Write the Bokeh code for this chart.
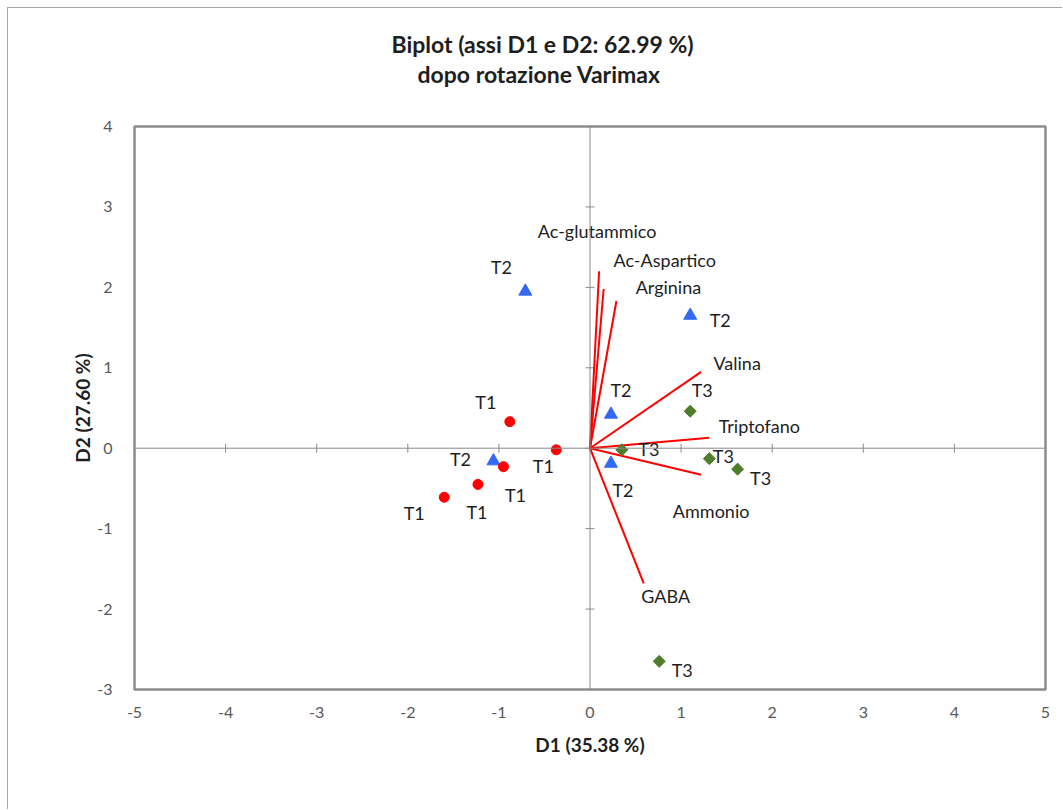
import math

from bokeh.plotting import figure
from bokeh.models import Range1d, FixedTicker, Span, Title, CustomJSTickFormatter
from bokeh.core.properties import value
from bokeh.embed import file_html
from bokeh.resources import INLINE

FONT = "Lato"

# Observation scores on D1 / D2 (after Varimax rotation)
t1_d1 = [-0.88, -0.37, -0.95, -1.23, -1.60]
t1_d2 = [0.33, -0.02, -0.23, -0.45, -0.61]
t2_d1 = [-0.71, 1.10, 0.23, 0.23, -1.06]
t2_d2 = [1.95, 1.65, 0.42, -0.19, -0.16]
t3_d1 = [1.10, 0.35, 1.31, 1.62, 0.76]
t3_d2 = [0.46, -0.02, -0.13, -0.26, -2.65]

# Variable loadings (vectors from the origin)
variables = ["Ac-glutammico", "Ac-Aspartico", "Arginina", "Valina",
             "Triptofano", "Ammonio", "GABA"]
var_d1 = [0.10, 0.15, 0.29, 1.22, 1.31, 1.22, 0.59]
var_d2 = [2.20, 1.98, 1.83, 0.95, 0.13, -0.33, -1.68]

x_ticks = [-5, -4, -3, -2, -1, 0, 1, 2, 3, 4, 5]
y_ticks = [-3, -2, -1, 0, 1, 2, 3, 4]

# label placement (pixel offsets, screen space)
t1_dx = [-24, -13, 12, -1, -30]
t1_dy = [-20, 16, 28, 28, 16]
t2_dx = [-24, 30, 10, 12, -33]
t2_dy = [-24, 4, -24, 27, -2]
t3_dx = [12, 27, 14, 23, 23]
t3_dy = [-21, -1, -3, 9, 9]
var_dx = [-2, 61, 52, 36, 50, 10, 22]
var_dy = [-40, -29, -14, -9, -12, 36, 13]

GRID = "#8a8a8a"
TXT = "#1e1e1e"

p = figure(
    width=1055, height=802,
    x_range=Range1d(-5, 5), y_range=Range1d(-3, 4),
    output_backend="svg", toolbar_location=None,
    min_border_left=126, min_border_right=18,
    min_border_top=118, min_border_bottom=121,
    background_fill_color="white", border_fill_color="white",
)
p.styles = {
    "margin-left": "7px", "margin-top": "7px",
    "border-left": "1px solid #a6a6a6", "border-top": "1px solid #a6a6a6",
}

p.grid.visible = False
p.outline_line_color = "#8c8c8c"
p.outline_line_width = 2.5

for ax, ticks in ((p.xaxis[0], x_ticks), (p.yaxis[0], y_ticks)):
    ax.ticker = FixedTicker(ticks=ticks)
    ax.formatter = CustomJSTickFormatter(code="return tick.toString();")
    ax.axis_line_color = None
    ax.major_tick_line_color = None
    ax.minor_tick_line_color = None
    ax.major_label_text_font = FONT
    ax.major_label_text_font_size = "16px"
    ax.major_label_text_color = "#595959"
    ax.axis_label_text_font = FONT
    ax.axis_label_text_font_size = "19px"
    ax.axis_label_text_font_style = "bold"
    ax.axis_label_text_color = TXT

p.xaxis.axis_label = "D1 (35.38 %)"
p.yaxis.axis_label = "D2 (27.60 %)"
p.xaxis.major_label_standoff = 11
p.yaxis.major_label_standoff = 16
p.xaxis.axis_label_standoff = 12
p.yaxis.axis_label_standoff = 0

# crossing axes through the origin, with tick marks
p.add_layout(Span(location=0, dimension="width", line_color=GRID, line_width=1))
p.add_layout(Span(location=0, dimension="height", line_color=GRID, line_width=1))
p.scatter(x=x_ticks, y=[0] * len(x_ticks), marker="dash", angle=math.pi / 2,
          size=9, line_color=GRID, line_width=1)
p.scatter(x=[0] * len(y_ticks), y=y_ticks, marker="dash",
          size=9, line_color=GRID, line_width=1)

# loading vectors
p.segment(x0=[0] * len(var_d1), y0=[0] * len(var_d2), x1=var_d1, y1=var_d2,
          line_color="#ff0000", line_width=2)

# observations
p.scatter(t2_d1, t2_d2, marker="triangle", size=13,
          fill_color="#3369f5", line_color="#3369f5")
p.scatter(t1_d1, t1_d2, marker="circle", size=10,
          fill_color="#ff0000", line_color="#ff0000")
p.scatter(t3_d1, t3_d2, marker="square", angle=math.pi / 4, size=8.5,
          fill_color="#4e7d2c", line_color="#4e7d2c")

lbl = dict(text_align="center", text_baseline="middle",
           text_font=value(FONT), text_font_size="18px", text_color=TXT)
p.text(t1_d1, t1_d2, text=["T1"] * len(t1_d1), x_offset=t1_dx, y_offset=t1_dy, **lbl)
p.text(t2_d1, t2_d2, text=["T2"] * len(t2_d1), x_offset=t2_dx, y_offset=t2_dy, **lbl)
p.text(t3_d1, t3_d2, text=["T3"] * len(t3_d1), x_offset=t3_dx, y_offset=t3_dy, **lbl)
p.text(var_d1, var_d2, text=variables, x_offset=var_dx, y_offset=var_dy, **lbl)

# two-line heading (panels stack outward from the frame); the lower line
# carries bottom padding to leave a blank band above the frame
head = dict(align="left", text_font=FONT, text_font_size="23px",
            text_font_style="bold", text_color=TXT, standoff=0)
p.add_layout(Title(text="dopo rotazione Varimax", offset=283,
                   padding=(0, 0, 0, 39), **head), "above")
p.add_layout(Title(text="Biplot (assi D1 e D2: 62.99 %)", offset=257, **head), "above")

open("out.html", "w").write(file_html(p, INLINE))
